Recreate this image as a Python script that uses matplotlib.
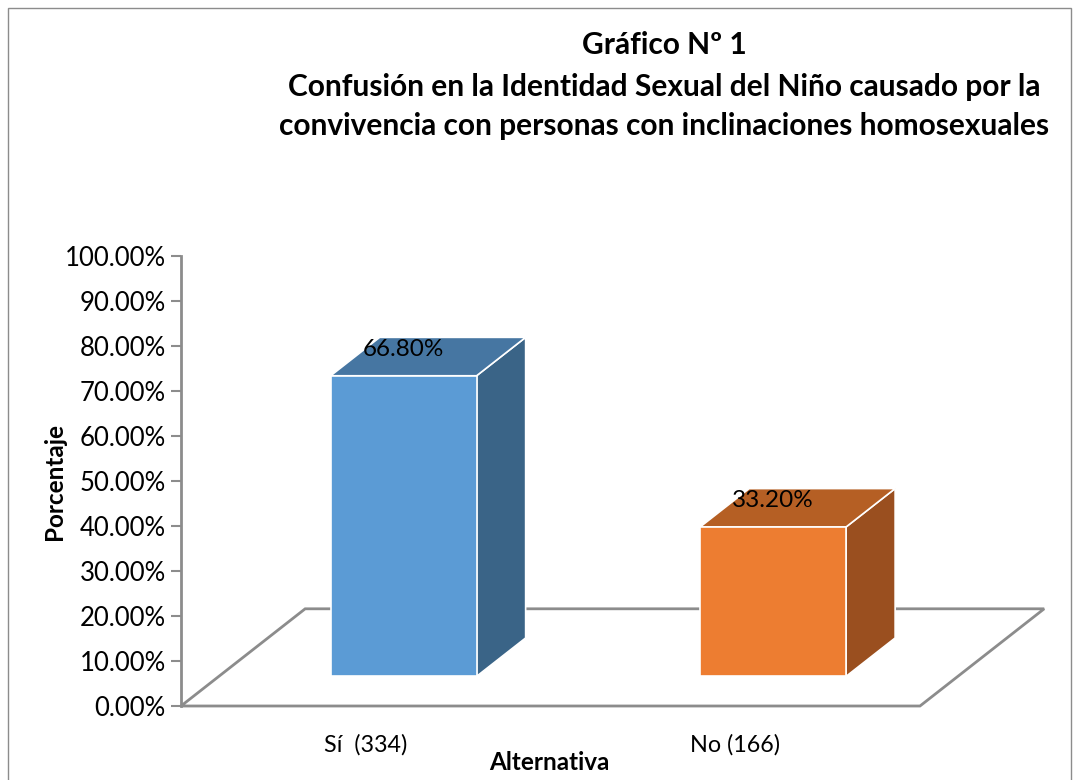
import matplotlib.pyplot as plt
from matplotlib.patches import Polygon, Rectangle

# data
categories = ['Sí  (334)', 'No (166)']
percentages = [66.80, 33.20]
value_labels = ['66.80%', '33.20%']
y_ticks = [0, 10, 20, 30, 40, 50, 60, 70, 80, 90, 100]
title_lines = ['Gráfico Nº 1',
               'Confusión en la Identidad Sexual del Niño causado por la',
               'convivencia con personas con inclinaciones homosexuales']

front_colors = ['#5B9BD5', '#ED7D31']
top_colors = ['#4676A2', '#B55F24']
side_colors = ['#3A6487', '#9A4F1F']

plt.rcParams['font.family'] = ['Lato', 'DejaVu Sans']

W, H = 1080, 780
fig = plt.figure(figsize=(W / 100, H / 100), dpi=100)

# axes placed so that the floor front edge and value axis sit where the original has them
left, right, bottom, top = 181, 920, 706, 256
ax = fig.add_axes([left / W, 1 - bottom / H, (right - left) / W, (bottom - top) / H])
ax.set_xlim(0, len(categories))
ax.set_ylim(0, 100)

# pseudo 3d geometry, in data units
floor_dx, floor_dy = 0.336, 21.6     # full floor depth
bar_front, bar_back = 0.305, 0.70    # bar position within the depth
bar_width = 0.395

# floor outline
n = len(categories)
floor = Polygon([(0, 0), (n, 0), (n + floor_dx, floor_dy), (floor_dx, floor_dy)],
                closed=True, fill=False, edgecolor='#8C8C8C', lw=2, clip_on=False, zorder=1)
ax.add_patch(floor)

for i, (val, lab) in enumerate(zip(percentages, value_labels)):
    cx = i + 0.5
    x0 = cx - bar_width / 2 + bar_front * floor_dx
    x1 = x0 + bar_width
    y0 = bar_front * floor_dy
    y1 = y0 + val
    ddx = (bar_back - bar_front) * floor_dx
    ddy = (bar_back - bar_front) * floor_dy
    # side face
    ax.add_patch(Polygon([(x1, y0), (x1 + ddx, y0 + ddy), (x1 + ddx, y1 + ddy), (x1, y1)],
                         closed=True, facecolor=side_colors[i], edgecolor='white', lw=1.2,
                         clip_on=False, zorder=3))
    # top face
    ax.add_patch(Polygon([(x0, y1), (x1, y1), (x1 + ddx, y1 + ddy), (x0 + ddx, y1 + ddy)],
                         closed=True, facecolor=top_colors[i], edgecolor='white', lw=1.2,
                         clip_on=False, zorder=3))
    # front face
    ax.add_patch(Rectangle((x0, y0), bar_width, val, facecolor=front_colors[i],
                           edgecolor='white', lw=1.2, clip_on=False, zorder=4))
    ax.annotate(lab, xy=((x0 + x1) / 2, y1), xytext=(0, 19), textcoords='offset points',
                ha='center', va='center', fontsize=17.5, color='black', zorder=5)

# value axis
ax.spines['top'].set_visible(False)
ax.spines['right'].set_visible(False)
ax.spines['bottom'].set_visible(False)
ax.spines['left'].set_color('#8C8C8C')
ax.spines['left'].set_linewidth(2)
ax.set_yticks(y_ticks)
ax.set_yticklabels([f'{t:.2f}%' for t in y_ticks], fontsize=18.5)
ax.tick_params(axis='y', length=7, width=1.5, color='#8C8C8C', direction='out', pad=4)

ax.set_xticks([i + 0.5 for i in range(n)])
ax.set_xticklabels(categories, fontsize=16.8)
ax.tick_params(axis='x', length=0, pad=20)

ax.set_ylabel('Porcentaje', fontsize=17.5, fontweight='bold')
ax.set_xlabel('Alternativa', fontsize=17.5, fontweight='bold')
ax.xaxis.label.set_va('center')
ax.xaxis.set_label_coords((549 - left) / (right - left), -(763 - bottom) / (bottom - top))
ax.yaxis.label.set_va('center')
ax.yaxis.set_label_coords(-(181 - 54) / (right - left), (bottom - 482) / (bottom - top))

for line, ypix in zip(title_lines, [45, 87, 126]):
    fig.text(664 / W, 1 - ypix / H, line, ha='center', va='center',
             fontsize=21.5, fontweight='bold')

# chart area frame
fig.patches.append(Rectangle((8 / W, -0.05), (W - 9 - 8) / W, 1.05 - 8 / H,
                             transform=fig.transFigure, fill=False,
                             edgecolor='#8C8C8C', lw=1))

fig.savefig('out.png', dpi=100)
